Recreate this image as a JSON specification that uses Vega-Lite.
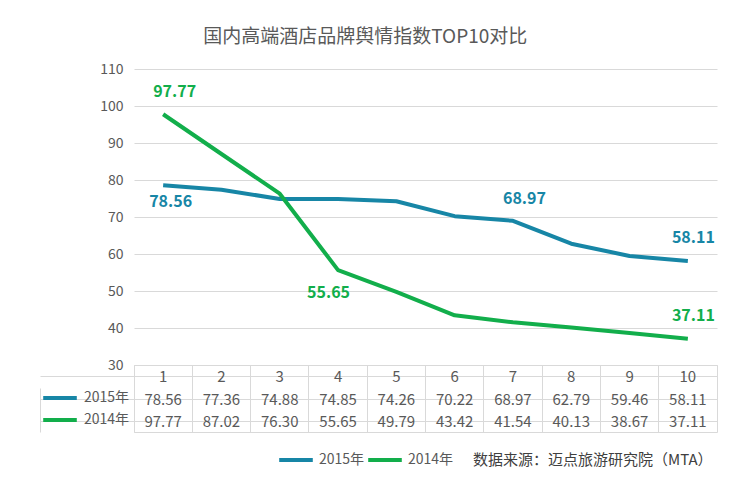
{
  "$schema": "https://vega.github.io/schema/vega-lite/v6.json",
  "background": "white",
  "padding": {"left": 39, "top": 28, "right": 19, "bottom": 6},
  "title": {
    "text": "国内高端酒店品牌舆情指数TOP10对比",
    "fontSize": 19,
    "fontWeight": "normal",
    "color": "#595959",
    "anchor": "middle",
    "dx": -13,
    "offset": 15
  },
  "data": {
    "values": [
      {"rank": 1, "series": "2015年", "value": 78.56},
      {"rank": 2, "series": "2015年", "value": 77.36},
      {"rank": 3, "series": "2015年", "value": 74.88},
      {"rank": 4, "series": "2015年", "value": 74.85},
      {"rank": 5, "series": "2015年", "value": 74.26},
      {"rank": 6, "series": "2015年", "value": 70.22},
      {"rank": 7, "series": "2015年", "value": 68.97},
      {"rank": 8, "series": "2015年", "value": 62.79},
      {"rank": 9, "series": "2015年", "value": 59.46},
      {"rank": 10, "series": "2015年", "value": 58.11},
      {"rank": 1, "series": "2014年", "value": 97.77},
      {"rank": 2, "series": "2014年", "value": 87.02},
      {"rank": 3, "series": "2014年", "value": 76.30},
      {"rank": 4, "series": "2014年", "value": 55.65},
      {"rank": 5, "series": "2014年", "value": 49.79},
      {"rank": 6, "series": "2014年", "value": 43.42},
      {"rank": 7, "series": "2014年", "value": 41.54},
      {"rank": 8, "series": "2014年", "value": 40.13},
      {"rank": 9, "series": "2014年", "value": 38.67},
      {"rank": 10, "series": "2014年", "value": 37.11}
    ]
  },
  "spacing": 0,
  "bounds": "flush",
  "resolve": {"scale": {"x": "independent", "y": "independent", "color": "independent"}, "legend": {"color": "independent"}},
  "vconcat": [
    {
      "width": 583,
      "height": 296,
      "encoding": {
        "x": {"field": "rank", "type": "ordinal", "scale": {"type": "point", "padding": 0.5}, "axis": null},
        "y": {
          "field": "value",
          "type": "quantitative",
          "scale": {"domain": [30, 110], "nice": false, "zero": false},
          "axis": {
            "values": [30, 40, 50, 60, 70, 80, 90, 100, 110],
            "title": null,
            "domain": false,
            "ticks": false,
            "grid": true,
            "gridColor": "#d9d9d9",
            "labelColor": "#595959",
            "labelFontSize": 14,
            "labelPadding": 11
          }
        },
        "color": {
          "field": "series",
          "type": "nominal",
          "scale": {"domain": ["2015年", "2014年"], "range": ["#1786a6", "#12ae4b"]},
          "legend": null
        }
      },
      "layer": [
        {"mark": {"type": "line", "strokeWidth": 4, "strokeJoin": "round"}},
        {
          "transform": [{"filter": "(datum.series == '2015年' && datum.rank == 7) || (datum.series == '2014年' && datum.rank == 1)"}],
          "mark": {"type": "text", "align": "left", "dx": -10, "dy": -22, "fontSize": 16, "fontWeight": "bold"},
          "encoding": {"text": {"field": "value", "type": "quantitative", "format": ".2f"}}
        },
        {
          "transform": [{"filter": "datum.rank == 10"}],
          "mark": {"type": "text", "align": "right", "dx": 27, "dy": -23, "fontSize": 16, "fontWeight": "bold"},
          "encoding": {"text": {"field": "value", "type": "quantitative", "format": ".2f"}}
        },
        {
          "transform": [{"filter": "datum.series == '2015年' && datum.rank == 1"}],
          "mark": {"type": "text", "align": "left", "dx": -14, "dy": 17, "fontSize": 16, "fontWeight": "bold"},
          "encoding": {"text": {"field": "value", "type": "quantitative", "format": ".2f"}}
        },
        {
          "transform": [{"filter": "datum.series == '2014年' && datum.rank == 4"}],
          "mark": {"type": "text", "align": "left", "dx": -31, "dy": 23, "fontSize": 16, "fontWeight": "bold"},
          "encoding": {"text": {"field": "value", "type": "quantitative", "format": ".2f"}}
        }
      ]
    },
    {
      "width": 583,
      "height": 67,
      "view": {"stroke": "#d9d9d9"},
      "encoding": {
        "x": {
          "field": "rank",
          "type": "ordinal",
          "scale": {"type": "band", "paddingInner": 0, "paddingOuter": 0},
          "axis": {"title": null, "labels": false, "ticks": false, "domain": false, "grid": true, "gridColor": "#d9d9d9", "bandPosition": 0}
        },
        "y": {
          "field": "series",
          "type": "nominal",
          "scale": {"domain": [" ", "2015年", "2014年"], "paddingInner": 0, "paddingOuter": 0},
          "axis": {"title": null, "labels": false, "offset": 94, "domain": true, "domainColor": "#d9d9d9", "domainDash": [0, 23, 44, 100], "grid": true, "gridColor": "#d9d9d9", "bandPosition": 1, "ticks": true, "tickSize": -94, "tickColor": "#d9d9d9"}
        }
      },
      "layer": [
        {
          "transform": [{"filter": "datum.series == '2015年'"}],
          "mark": {"type": "text", "fontSize": 15, "color": "#595959", "dy": 1},
          "encoding": {
            "y": {
              "datum": " ",
              "type": "nominal",
              "scale": {"domain": [" ", "2015年", "2014年"], "paddingInner": 0, "paddingOuter": 0},
              "axis": {"title": null, "labels": false, "offset": 94, "domain": true, "domainColor": "#d9d9d9", "domainDash": [0, 23, 44, 100], "grid": true, "gridColor": "#d9d9d9", "bandPosition": 1, "ticks": true, "tickSize": -94, "tickColor": "#d9d9d9"}
            },
            "text": {"field": "rank", "type": "ordinal"}
          }
        },
        {
          "mark": {"type": "text", "fontSize": 15, "color": "#595959", "dy": 1},
          "encoding": {"text": {"field": "value", "type": "quantitative", "format": ".2f"}}
        },
        {
          "transform": [{"filter": "false"}],
          "mark": {"type": "line"},
          "encoding": {
            "color": {
              "field": "series",
              "type": "nominal",
              "scale": {"domain": ["2015年", "2014年"], "range": ["#1786a6", "#12ae4b"]},
              "legend": {
                "orient": "none",
                "legendX": -82,
                "legendY": 25,
                "direction": "vertical",
                "title": null,
                "padding": 0,
                "symbolType": "M-2.8,0H2.8",
                "symbolSize": 144,
                "symbolStrokeWidth": 4,
                "labelFontSize": 14,
                "labelColor": "#595959",
                "labelOffset": 16,
                "rowPadding": 6
              }
            }
          }
        },
        {
          "transform": [{"filter": "false"}],
          "mark": {"type": "line"},
          "encoding": {
            "color": {
              "field": "series",
              "type": "nominal",
              "scale": {"domain": ["2015年", "2014年"], "range": ["#1786a6", "#12ae4b"]},
              "legend": {
                "orient": "none",
                "legendX": 154,
                "legendY": 87,
                "direction": "horizontal",
                "title": "数据来源：迈点旅游研究院（MTA）",
                "titleOrient": "right",
                "titlePadding": 20,
                "titleLimit": 400,
                "titleFontSize": 15,
                "titleFontWeight": "normal",
                "titleColor": "#404040",
                "padding": 0,
                "symbolType": "M-2.8,0H2.8",
                "symbolSize": 144,
                "symbolStrokeWidth": 4,
                "labelFontSize": 14,
                "labelColor": "#595959",
                "labelOffset": 15,
                "columnPadding": -5
              }
            }
          }
        }
      ],
      "resolve": {"scale": {"color": "independent"}, "legend": {"color": "independent"}}
    }
  ],
  "config": {
    "font": "Noto Sans CJK SC",
    "view": {"stroke": null}
  }
}
